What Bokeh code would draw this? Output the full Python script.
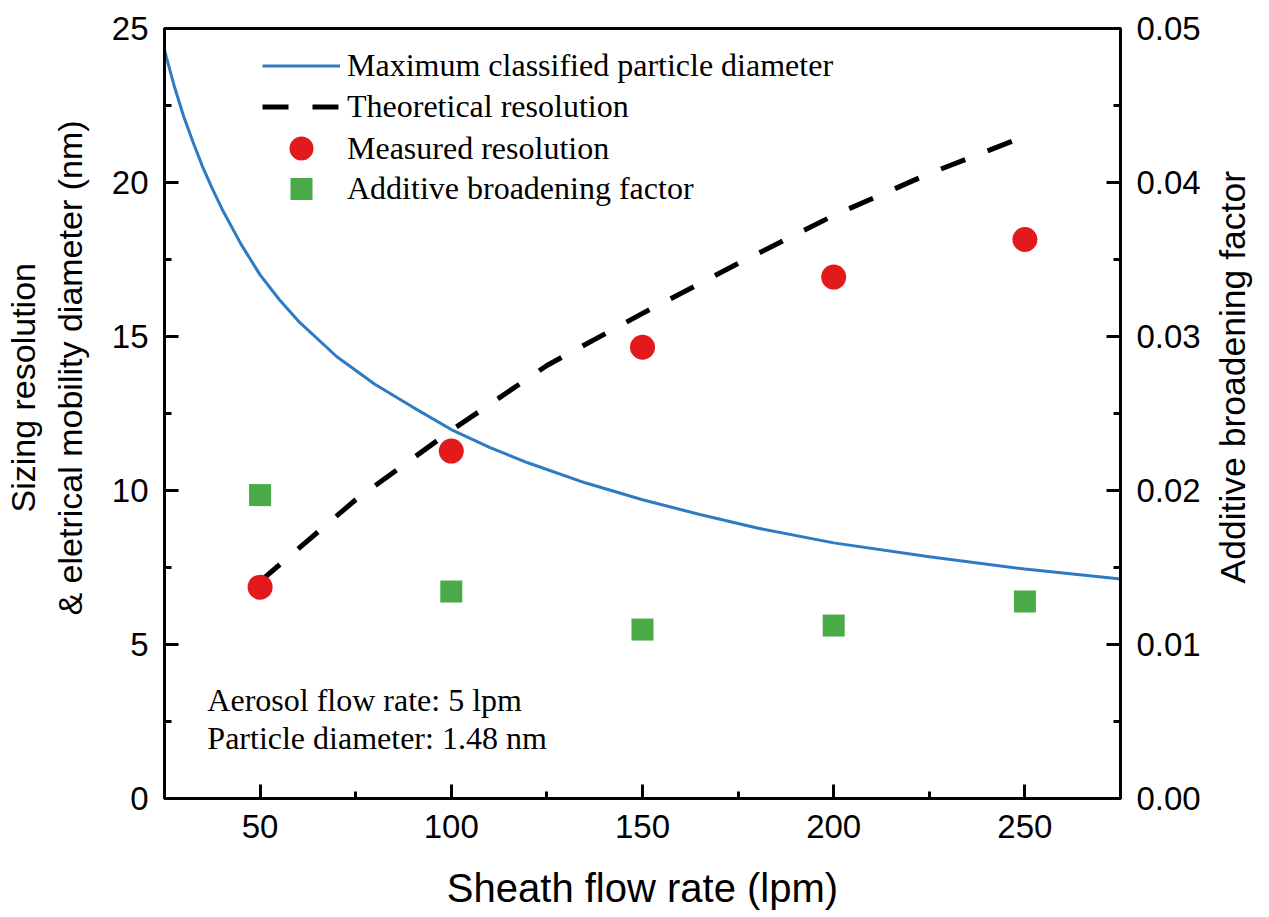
import math
from bokeh.plotting import figure
from bokeh.layouts import row
from bokeh.models import (Range1d, LinearAxis, SingleIntervalTicker, Legend, LegendItem,
                          PrintfTickFormatter, Label, Title)
from bokeh.embed import file_html
from bokeh.resources import INLINE

# ---------------- data ----------------
flow_curve = [25, 27.5, 30, 32.5, 35, 37.5, 40, 45, 50, 55, 60, 70, 80, 90, 100, 110, 120,
              135, 150, 165, 180, 200, 225, 250, 275]
dmax_curve = [24.3, 23.15, 22.15, 21.3, 20.5, 19.8, 19.15, 18.0, 17.0, 16.2, 15.5, 14.35, 13.45,
              12.7, 11.98, 11.4, 10.9, 10.25, 9.7, 9.22, 8.78, 8.3, 7.85, 7.45, 7.13]

flow_theory = [50, 75, 100, 125, 150, 175, 200, 225, 250]
res_theory = [7.05, 9.7, 11.95, 14.06, 15.75, 17.37, 18.93, 20.29, 21.5]

flow_meas = [50, 100, 150, 200, 250]
res_meas = [6.86, 11.28, 14.65, 16.93, 18.15]
abf_meas = [0.0197, 0.01344, 0.01097, 0.01123, 0.0128]

series_names = ["Maximum classified particle diameter", "Theoretical resolution",
                "Measured resolution", "Additive broadening factor"]
notes = ["Aerosol flow rate: 5 lpm", "Particle diameter: 1.48 nm"]
left_title = ["Sizing resolution", "& eletrical mobility diameter (nm)"]
right_title = "Additive broadening factor"
x_title = "Sheath flow rate (lpm)"

BLUE = "#2E7BC4"
RED = "#E31A1C"
GREEN = "#4AAA48"
SANS = "Liberation Sans"
SERIF = "Liberation Serif"

H = 912
TOP, BOTTOM = 28, 114
LEFT_STRIP = 108

p = figure(width=1206 - LEFT_STRIP, height=H, x_range=Range1d(25, 275), y_range=Range1d(0, 25),
           output_backend="svg", toolbar_location=None,
           min_border_left=164 - LEFT_STRIP, min_border_right=86,
           min_border_top=TOP, min_border_bottom=BOTTOM)
p.extra_y_ranges = {"abf": Range1d(0, 0.05)}
p.grid.visible = False
p.outline_line_color = "black"
p.outline_line_width = 3
p.background_fill_color = "white"
p.border_fill_color = "white"

r_blue = p.line(flow_curve, dmax_curve, line_color=BLUE, line_width=3)
r_dash = p.line(flow_theory, res_theory, line_color="black", line_width=5, line_dash="26 24",
                line_cap="butt")
r_red = p.scatter(flow_meas, res_meas, marker="circle", size=25, fill_color=RED, line_color=None)
r_green = p.scatter(flow_meas, abf_meas, marker="square", size=22, fill_color=GREEN,
                    line_color=None, y_range_name="abf")

right = LinearAxis(y_range_name="abf",
                   ticker=SingleIntervalTicker(interval=0.01, num_minor_ticks=2),
                   formatter=PrintfTickFormatter(format="%.2f"))
p.add_layout(right, "right")

p.xaxis[0].ticker = SingleIntervalTicker(interval=50, num_minor_ticks=2)
p.yaxis[0].ticker = SingleIntervalTicker(interval=5, num_minor_ticks=2)

for ax in [p.xaxis[0], p.yaxis[0], right]:
    ax.axis_line_width = 3
    ax.axis_line_color = "black"
    ax.major_tick_in = 14
    ax.major_tick_out = 0
    ax.minor_tick_in = 7
    ax.minor_tick_out = 0
    ax.major_tick_line_width = 3
    ax.minor_tick_line_width = 3
    ax.major_tick_line_color = "black"
    ax.minor_tick_line_color = "black"
    ax.major_label_text_font = SANS
    ax.major_label_text_font_size = "33px"
    ax.major_label_text_color = "black"
    ax.major_label_standoff = 16

p.xaxis[0].axis_label = x_title
p.xaxis[0].axis_label_text_font = SANS
p.xaxis[0].axis_label_text_font_size = "40px"
p.xaxis[0].axis_label_text_font_style = "normal"
p.xaxis[0].axis_label_text_color = "black"
p.xaxis[0].axis_label_standoff = 25

# notes inside the plot
p.add_layout(Label(x=36.2, y=3.2, text=notes[0], text_font=SERIF, text_font_size="32px",
                   text_baseline="alphabetic", text_color="black"))
p.add_layout(Label(x=36.2, y=1.97, text=notes[1], text_font=SERIF, text_font_size="32px",
                   text_baseline="alphabetic", text_color="black"))

# legend: one single-item legend per row so that markers keep their size
rows = [(series_names[0], r_blue, 41, 712.5),
        (series_names[1], r_dash, 41, 670.8),
        (series_names[2], r_red, 60, 620),
        (series_names[3], r_green, 55, 582.5)]
for name, rend, gh, ypos in rows:
    lg = Legend(items=[LegendItem(label=name, renderers=[rend])], location=(98, ypos))
    lg.label_text_font = SERIF
    lg.label_text_font_size = "32px"
    lg.label_text_color = "black"
    lg.glyph_width = 78
    lg.glyph_height = gh
    lg.label_height = gh
    lg.padding = 0
    lg.margin = 0
    lg.spacing = 0
    lg.label_standoff = 7
    lg.border_line_color = None
    lg.background_fill_alpha = 0
    p.add_layout(lg)


def title_strip(width, left_border):
    f = figure(width=width, height=H, x_axis_location=None, y_axis_location=None,
               output_backend="svg", toolbar_location=None,
               min_border_left=left_border, min_border_right=0,
               min_border_top=TOP, min_border_bottom=BOTTOM)
    f.grid.visible = False
    f.outline_line_color = None
    f.background_fill_color = "white"
    f.border_fill_color = "white"
    return f


# left title strip: two lines, inner line added first
ql = title_strip(LEFT_STRIP, 0)
ql.add_layout(Title(text=left_title[1], align="left", offset=183, vertical_align="top",
                    standoff=16, text_font=SANS, text_font_size="34px",
                    text_font_style="normal", text_color="black"), "left")
ql.add_layout(Title(text=left_title[0], align="left", offset=286, vertical_align="bottom",
                    standoff=2, text_font=SANS, text_font_size="34px",
                    text_font_style="normal", text_color="black"), "left")

# right title strip (reads bottom-to-top like the reference)
qr = title_strip(63, 0)
qr.add_layout(Title(text=right_title, align="left", offset=215, vertical_align="middle",
                    standoff=10, text_font=SANS, text_font_size="35.5px",
                    text_font_style="normal", text_color="black"), "left")

open("out.html", "w").write(file_html(row(ql, p, qr), INLINE))
